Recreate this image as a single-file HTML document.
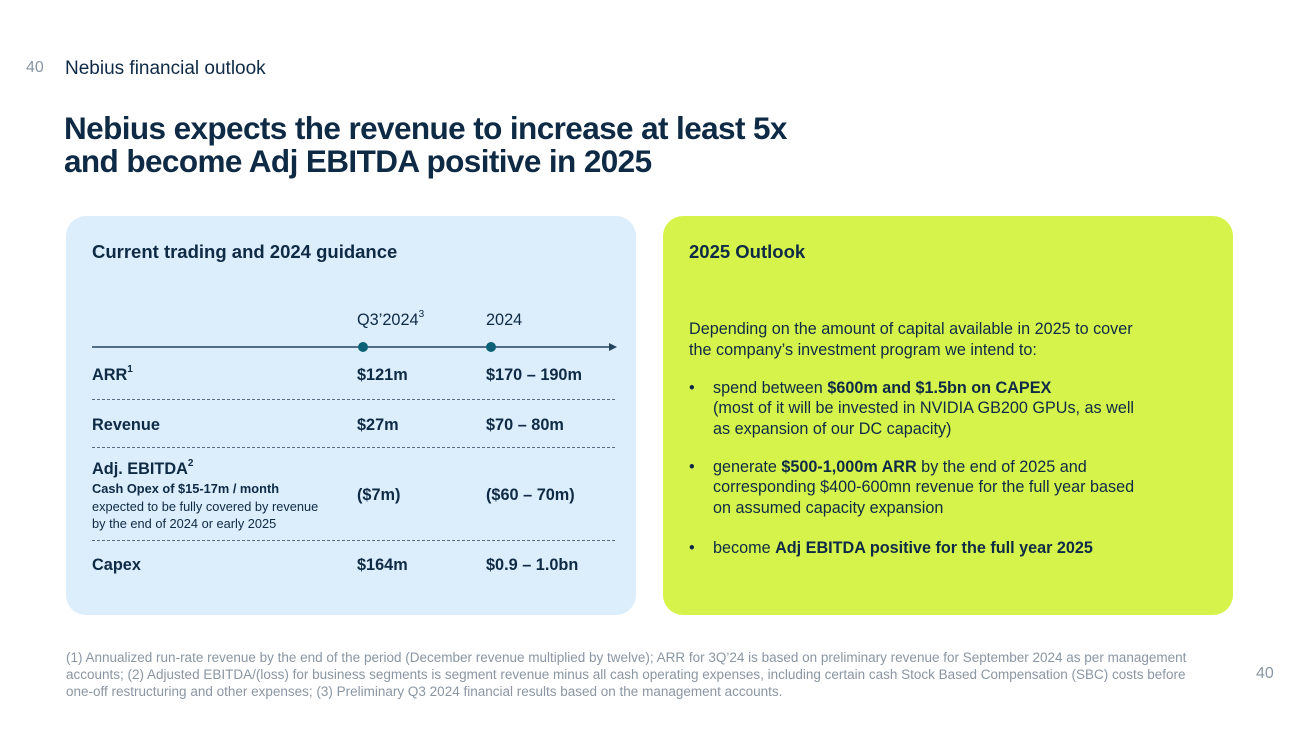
<!DOCTYPE html>
<html><head><meta charset="utf-8"><style>
body{margin:0;width:1300px;height:731px;background:#fff;position:relative;overflow:hidden;font-family:"Liberation Sans",Arial,sans-serif;color:#0e2a45}
.a{position:absolute;white-space:nowrap}
.b{font-weight:bold}
.panel{position:absolute;top:216px;width:570px;height:399px;border-radius:20px}
.dash{position:absolute;left:92px;width:523px;border-top:1px dashed #5a6d80;height:0}
.t{font-size:16.3px}
sup{font-size:10px;vertical-align:top;position:relative;top:-2px}
</style></head><body>
<div class="a" style="left:26px;top:59px;font-size:16px;color:#8a96a3">40</div>
<div class="a" style="left:65px;top:58px;font-size:19px">Nebius financial outlook</div>
<div class="a b" style="left:64px;top:112px;font-size:31.5px;line-height:33px;letter-spacing:-0.6px">Nebius expects the revenue to increase at least 5x<br>and become Adj EBITDA positive in 2025</div>

<div class="panel" style="left:66px;background:#dcedfb"></div>
<div class="panel" style="left:663px;background:#d6f34c"></div>

<div class="a b" style="left:92px;top:241px;font-size:18.5px">Current trading and 2024 guidance</div>
<div class="a t" style="left:357px;top:311px">Q3’2024<sup>3</sup></div>
<div class="a t" style="left:486px;top:311px">2024</div>
<svg class="a" style="left:90px;top:338px" width="530" height="20">
<line x1="2" y1="9" x2="520" y2="9" stroke="#23445f" stroke-width="1.5"/>
<polygon points="519,5 527,9 519,13" fill="#23445f"/>
<circle cx="273" cy="9" r="5" fill="#0d6176"/>
<circle cx="401" cy="9" r="5" fill="#0d6176"/>
</svg>
<div class="a b t" style="left:92px;top:366px">ARR<sup>1</sup></div>
<div class="a b t" style="left:357px;top:366px">$121m</div>
<div class="a b t" style="left:486px;top:366px">$170 – 190m</div>
<div class="dash" style="top:399px"></div>
<div class="a b t" style="left:92px;top:416px">Revenue</div>
<div class="a b t" style="left:357px;top:416px">$27m</div>
<div class="a b t" style="left:486px;top:416px">$70 – 80m</div>
<div class="dash" style="top:447px"></div>
<div class="a b t" style="left:92px;top:460px">Adj. EBITDA<sup>2</sup></div>
<div class="a" style="left:92px;top:480px;font-size:12.8px;line-height:17.5px"><b>Cash Opex of $15-17m / month</b><br>expected to be fully covered by revenue<br>by the end of 2024 or early 2025</div>
<div class="a b t" style="left:357px;top:486px">($7m)</div>
<div class="a b t" style="left:486px;top:486px">($60 – 70m)</div>
<div class="dash" style="top:540px"></div>
<div class="a b t" style="left:92px;top:556px">Capex</div>
<div class="a b t" style="left:357px;top:556px">$164m</div>
<div class="a b t" style="left:486px;top:556px">$0.9 – 1.0bn</div>

<div class="a b" style="left:689px;top:241px;font-size:18.5px">2025 Outlook</div>
<div class="a" style="left:689px;top:319px;line-height:20.5px;font-size:16.2px">
Depending on the amount of capital available in 2025 to cover<br>the company’s investment program we intend to:<br>
<div style="height:17.5px"></div>
<div style="position:relative;padding-left:24px"><span style="position:absolute;left:0">•</span>spend between <b>$600m and $1.5bn on CAPEX</b><br>(most of it will be invested in NVIDIA GB200 GPUs, as well<br>as expansion of our DC capacity)</div>
<div style="height:17.5px"></div>
<div style="position:relative;padding-left:24px"><span style="position:absolute;left:0">•</span>generate <b>$500-1,000m ARR</b> by the end of 2025 and<br>corresponding $400-600mn revenue for the full year based<br>on assumed capacity expansion</div>
<div style="height:20px"></div>
<div style="position:relative;padding-left:24px"><span style="position:absolute;left:0">•</span>become <b>Adj EBITDA positive for the full year 2025</b></div>
</div>

<div class="a" style="left:66px;top:649px;font-size:13.5px;line-height:17px;color:#8a96a3">(1) Annualized run-rate revenue by the end of the period (December revenue multiplied by twelve); ARR for 3Q’24 is based on preliminary revenue for September 2024 as per management<br>accounts; (2) Adjusted EBITDA/(loss) for business segments is segment revenue minus all cash operating expenses, including certain cash Stock Based Compensation (SBC) costs before<br>one-off restructuring and other expenses; (3) Preliminary Q3 2024 financial results based on the management accounts.</div>
<div class="a" style="left:1256px;top:665px;font-size:16px;color:#8a96a3">40</div>
</body></html>
